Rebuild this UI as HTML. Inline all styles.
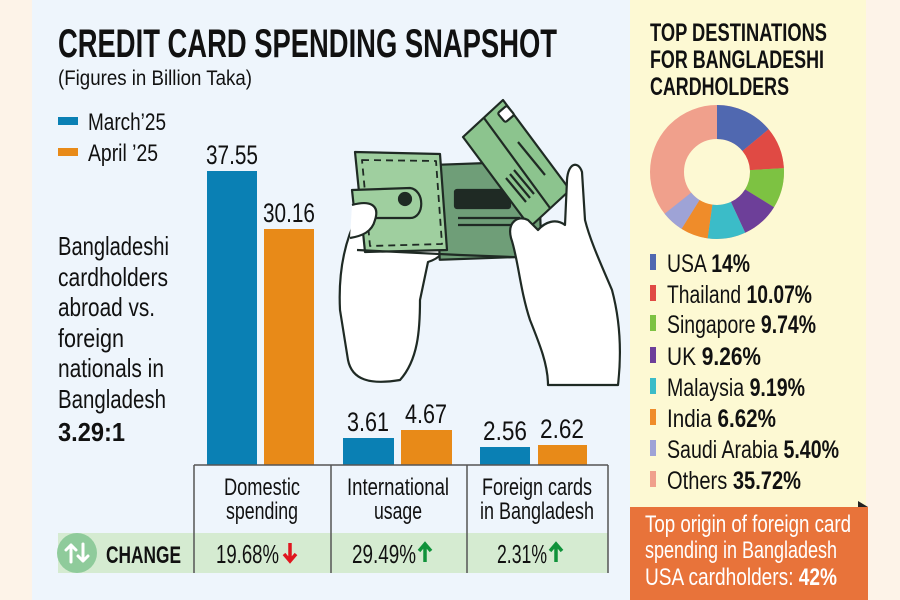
<!DOCTYPE html>
<html><head><meta charset="utf-8"><style>
html,body{margin:0;padding:0;background:#fdf3e8}
svg{display:block}
text{font-family:"Liberation Sans",sans-serif}
</style></head><body>
<svg width="900" height="600" viewBox="0 0 900 600" xmlns="http://www.w3.org/2000/svg">
<rect x="0" y="0" width="900" height="600" fill="#fdf3e8"/>
<rect x="32" y="0" width="598" height="600" fill="#eef5fc"/>
<rect x="630" y="0" width="236" height="507" fill="#fdf9d3"/>
<rect x="630" y="507" width="238" height="93" fill="#e8733a"/>
<polygon points="858,501 868,507 858,507" fill="#222"/>

<text x="58" y="57" font-size="40" font-weight="bold" fill="#111" textLength="499" lengthAdjust="spacingAndGlyphs">CREDIT CARD SPENDING SNAPSHOT</text>
<text x="58" y="85" font-size="21" fill="#111" textLength="194" lengthAdjust="spacingAndGlyphs">(Figures in Billion Taka)</text>
<rect x="58" y="117" width="20" height="8" fill="#0a80b4"/>
<text x="88" y="130" font-size="24" fill="#111" textLength="78" lengthAdjust="spacingAndGlyphs">March’25</text>
<rect x="58" y="148" width="20" height="8" fill="#e88a18"/>
<text x="88" y="161" font-size="24" fill="#111" textLength="70" lengthAdjust="spacingAndGlyphs">April ’25</text>

<g font-size="26" fill="#111">
<text x="58" y="255" textLength="111" lengthAdjust="spacingAndGlyphs">Bangladeshi</text>
<text x="58" y="286" textLength="110" lengthAdjust="spacingAndGlyphs">cardholders</text>
<text x="58" y="316" textLength="97" lengthAdjust="spacingAndGlyphs">abroad vs.</text>
<text x="58" y="347" textLength="66" lengthAdjust="spacingAndGlyphs">foreign</text>
<text x="58" y="377" textLength="106" lengthAdjust="spacingAndGlyphs">nationals in</text>
<text x="58" y="408" textLength="108" lengthAdjust="spacingAndGlyphs">Bangladesh</text>
<text x="58" y="441" font-weight="bold" textLength="67" lengthAdjust="spacingAndGlyphs">3.29:1</text>
</g>

<g stroke="#1f2a24" stroke-width="2.2" stroke-linejoin="round">
<path d="M358 215 C345 240 338 270 340 310 L348 360 C352 380 370 385 400 380 C418 360 420 330 420 300 L428 262 C440 258 445 252 440 246 L375 240 Z" fill="#fff"/>
<rect x="438" y="163" width="102" height="95" fill="#6f9e78" transform="rotate(-2 489 210)"/>
<rect x="455" y="190" width="55" height="18" rx="2" fill="#1f2a24"/>
<line x1="458" y1="218" x2="520" y2="218"/>
<line x1="458" y1="225" x2="520" y2="225"/>
<path d="M355 152 L440 154 L447 250 L365 252 Z" fill="#9fcf9f"/>
<path d="M362 160 L436 161 L442 244 L370 246 Z" fill="none" stroke-dasharray="7 5" stroke-width="1.8"/>
<path d="M352 190 L410 188 C425 190 425 218 410 218 L355 218 Z" fill="#9fcf9f"/>
<circle cx="405" cy="199" r="6" fill="#1f2a24"/>
<path d="M357 250 L460 255 L540 258" fill="none"/>
<path d="M352 205 C370 200 380 205 375 220 C372 232 362 236 350 238" fill="#fff"/>
<path d="M463 137 L503 100 L570 190 L530 227 Z" fill="#8cc48e"/>
<line x1="484" y1="118" x2="550" y2="208"/>
<rect x="500" y="108" width="12" height="12" rx="2" fill="#fff" transform="rotate(-40 506 114)"/>
<line x1="518" y1="142" x2="545" y2="175"/>
<path d="M506 178 L526 202 M510 174 L530 198 M514 170 L534 194" fill="none"/>
<path d="M582 172 C578 160 568 163 567 180 L565 225 C556 218 545 222 538 230 L528 220 C518 215 507 222 511 238 C518 258 520 290 530 320 C540 345 548 365 548 385 L618 385 C622 350 620 320 612 290 C600 262 590 240 585 220 Z" fill="#fff"/>
</g>

<rect x="207" y="171" width="50" height="294" fill="#0a80b4"/>
<rect x="264" y="229" width="50" height="236" fill="#e88a18"/>
<rect x="343" y="438" width="51" height="27" fill="#0a80b4"/>
<rect x="401" y="430" width="51" height="35" fill="#e88a18"/>
<rect x="480" y="447" width="50" height="18" fill="#0a80b4"/>
<rect x="538" y="445" width="49" height="20" fill="#e88a18"/>
<g font-size="27" fill="#111" text-anchor="middle">
<text x="232" y="164" textLength="52" lengthAdjust="spacingAndGlyphs">37.55</text>
<text x="289" y="222" textLength="52" lengthAdjust="spacingAndGlyphs">30.16</text>
<text x="368" y="431" textLength="42" lengthAdjust="spacingAndGlyphs">3.61</text>
<text x="426" y="423" textLength="42" lengthAdjust="spacingAndGlyphs">4.67</text>
<text x="505" y="440" textLength="44" lengthAdjust="spacingAndGlyphs">2.56</text>
<text x="562" y="438" textLength="44" lengthAdjust="spacingAndGlyphs">2.62</text>
</g>

<rect x="58" y="533" width="550" height="40" fill="#d5ebd1"/>
<line x1="194" y1="465" x2="608" y2="465" stroke="#555" stroke-width="1.5"/>
<g stroke="#555" stroke-width="1.5">
<line x1="194" y1="465" x2="194" y2="573"/>
<line x1="331" y1="465" x2="331" y2="573"/>
<line x1="467" y1="465" x2="467" y2="573"/>
<line x1="608" y1="465" x2="608" y2="573"/>
</g>
<g font-size="24" fill="#111" text-anchor="middle">
<text x="262" y="495" textLength="76" lengthAdjust="spacingAndGlyphs">Domestic</text>
<text x="262" y="519" textLength="72" lengthAdjust="spacingAndGlyphs">spending</text>
<text x="398" y="495" textLength="102" lengthAdjust="spacingAndGlyphs">International</text>
<text x="398" y="519" textLength="48" lengthAdjust="spacingAndGlyphs">usage</text>
<text x="537" y="495" textLength="110" lengthAdjust="spacingAndGlyphs">Foreign cards</text>
<text x="537" y="519" textLength="114" lengthAdjust="spacingAndGlyphs">in Bangladesh</text>
</g>
<circle cx="77" cy="553" r="20" fill="#8fcb9b"/>
<g stroke="#fff" stroke-width="3" fill="none" stroke-linecap="round" stroke-linejoin="round">
<path d="M71 562 V545 M66 550 L71 545 L76 550"/>
<path d="M83 544 V561 M78 556 L83 561 L88 556"/>
</g>
<text x="106" y="563" font-size="24" font-weight="bold" fill="#111" textLength="75" lengthAdjust="spacingAndGlyphs">CHANGE</text>
<g font-size="26" fill="#111">
<text x="216" y="563" textLength="63" lengthAdjust="spacingAndGlyphs">19.68%</text>
<text x="352" y="563" textLength="64" lengthAdjust="spacingAndGlyphs">29.49%</text>
<text x="497" y="563" textLength="50" lengthAdjust="spacingAndGlyphs">2.31%</text>
</g>
<g stroke-width="3.5" fill="none">
<path d="M290 543 V561 M284 554 L290 561 L296 554" stroke="#e0161e"/>
<path d="M425 562 V544 M419 551 L425 544 L431 551" stroke="#10923a"/>
<path d="M556 562 V544 M550 551 L556 544 L562 551" stroke="#10923a"/>
</g>

<g font-size="25" font-weight="bold" fill="#111">
<text x="650" y="41" textLength="177" lengthAdjust="spacingAndGlyphs">TOP DESTINATIONS</text>
<text x="650" y="68" textLength="174" lengthAdjust="spacingAndGlyphs">FOR BANGLADESHI</text>
<text x="650" y="95" textLength="139" lengthAdjust="spacingAndGlyphs">CARDHOLDERS</text>
</g>
<g transform="rotate(-90 717 172)" fill="none" stroke-width="34">
<circle cx="717" cy="172" r="50" pathLength="100" stroke="#f0a08c"/>
<circle cx="717" cy="172" r="50" pathLength="100" stroke="#5068b0" stroke-dasharray="14 86" stroke-dashoffset="0"/>
<circle cx="717" cy="172" r="50" pathLength="100" stroke="#e04a44" stroke-dasharray="10.07 89.93" stroke-dashoffset="-14"/>
<circle cx="717" cy="172" r="50" pathLength="100" stroke="#7dc242" stroke-dasharray="9.74 90.26" stroke-dashoffset="-24.07"/>
<circle cx="717" cy="172" r="50" pathLength="100" stroke="#6d3f99" stroke-dasharray="9.26 90.74" stroke-dashoffset="-33.81"/>
<circle cx="717" cy="172" r="50" pathLength="100" stroke="#3bbcc8" stroke-dasharray="9.19 90.81" stroke-dashoffset="-43.07"/>
<circle cx="717" cy="172" r="50" pathLength="100" stroke="#ef8c2a" stroke-dasharray="6.62 93.38" stroke-dashoffset="-52.26"/>
<circle cx="717" cy="172" r="50" pathLength="100" stroke="#9ea3d6" stroke-dasharray="5.4 94.6" stroke-dashoffset="-58.88"/>
</g>
<g>
<rect x="650" y="254" width="6" height="16" fill="#5068b0"/>
<rect x="650" y="285" width="6" height="16" fill="#e04a44"/>
<rect x="650" y="315" width="6" height="16" fill="#7dc242"/>
<rect x="650" y="347" width="6" height="16" fill="#6d3f99"/>
<rect x="650" y="378" width="6" height="16" fill="#3bbcc8"/>
<rect x="650" y="409" width="6" height="16" fill="#ef8c2a"/>
<rect x="650" y="440" width="6" height="16" fill="#9ea3d6"/>
<rect x="650" y="471" width="6" height="16" fill="#f0a08c"/>
</g>
<g font-size="25" fill="#111">
<text x="667" y="272" textLength="83" lengthAdjust="spacingAndGlyphs">USA <tspan font-weight="bold">14%</tspan></text>
<text x="667" y="303" textLength="145" lengthAdjust="spacingAndGlyphs">Thailand <tspan font-weight="bold">10.07%</tspan></text>
<text x="667" y="333" textLength="149" lengthAdjust="spacingAndGlyphs">Singapore <tspan font-weight="bold">9.74%</tspan></text>
<text x="667" y="365" textLength="94" lengthAdjust="spacingAndGlyphs">UK <tspan font-weight="bold">9.26%</tspan></text>
<text x="667" y="396" textLength="138" lengthAdjust="spacingAndGlyphs">Malaysia <tspan font-weight="bold">9.19%</tspan></text>
<text x="667" y="427" textLength="109" lengthAdjust="spacingAndGlyphs">India <tspan font-weight="bold">6.62%</tspan></text>
<text x="667" y="458" textLength="172" lengthAdjust="spacingAndGlyphs">Saudi Arabia <tspan font-weight="bold">5.40%</tspan></text>
<text x="667" y="489" textLength="134" lengthAdjust="spacingAndGlyphs">Others <tspan font-weight="bold">35.72%</tspan></text>
</g>
<g font-size="24" fill="#fff">
<text x="645" y="532" textLength="206" lengthAdjust="spacingAndGlyphs">Top origin of foreign card</text>
<text x="645" y="558" textLength="192" lengthAdjust="spacingAndGlyphs">spending in Bangladesh</text>
<text x="645" y="585" textLength="192" lengthAdjust="spacingAndGlyphs">USA cardholders: <tspan font-weight="bold">42%</tspan></text>
</g>
</svg>
</body></html>
